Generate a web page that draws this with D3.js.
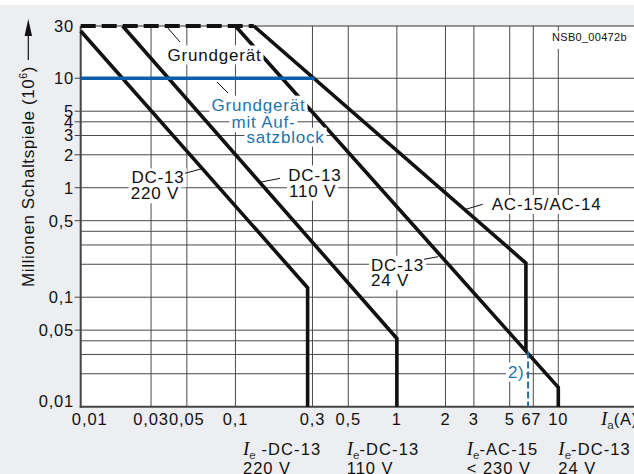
<!DOCTYPE html>
<html><head><meta charset="utf-8">
<script src="https://cdn.jsdelivr.net/npm/d3@7"></script>
<style>
html,body{margin:0;padding:0;background:#fff;}
svg{display:block;font-family:"Liberation Sans",Arial,sans-serif;}
</style></head><body>
<svg id="chart" width="634" height="474"></svg>
<script>
// ---------- data ----------
const xTickValues = [0.01, 0.03, 0.05, 0.1, 0.3, 0.5, 1, 2, 3, 5, 6, 7, 10];
const xGridValues = [0.03, 0.05, 0.1, 0.3, 0.5, 1, 2, 3, 5, 7, 10];
const yTickValues = [30, 10, 5, 4, 3, 2, 1, 0.5, 0.1, 0.05, 0.01];
const yGridValues = [10, 5, 4, 3, 2, 1, 0.5, 0.4, 0.3, 0.2, 0.1, 0.05, 0.04, 0.03, 0.02];
const dc13_220V = [[0.011, 27], [0.28, 0.122], [0.28, 0.01]];
const dc13_110V = [[0.02, 30], [1, 0.042], [1, 0.01]];
const dc13_24V  = [[0.1, 30], [10, 0.015], [10, 0.01]];
const ac15_ac14 = [[0.13, 30], [6.3, 0.205], [6.3, 0.032]];
const grundgeraet = [[0.011, 30], [0.13, 30]];
const mitAufsatzblock = [[0.011, 10], [0.31, 10]];
const note2 = [[6.5, 0.032], [6.5, 0.01]];
const xMin = 0.011, xMax = 10, yMin = 0.01, yMax = 30;

// ---------- setup ----------
const W = 634, H = 474;
const svg = d3.select("#chart");
const x = d3.scaleLog().domain([xMin, xMax]).range([80.7, 558.3]);
const y = d3.scaleLog().domain([yMin, yMax]).range([406.7, 26]);
const pLeft = x(xMin), pRight = W, pTop = y(yMax), pBottom = y(yMin);
const fmt = v => String(v).replace(".", ",");
const BLUE_LINE = "#0b5ea8", BLUE_TEXT = "#1f74a8", INK = "#111";

svg.append("rect").attr("x", 0).attr("y", 5).attr("width", W).attr("height", H - 5).attr("fill", "#eceef1");
svg.append("rect").attr("x", pLeft).attr("y", pTop).attr("width", pRight - pLeft).attr("height", pBottom - pTop).attr("fill", "#fff");

// grid
const grid = svg.append("g").attr("stroke", "#4a4a4a").attr("stroke-width", 1);
grid.selectAll("line.v").data(xGridValues).join("line").attr("class", "v")
  .attr("x1", d => x(d)).attr("x2", d => x(d)).attr("y1", pTop).attr("y2", pBottom);
grid.selectAll("line.h").data(yGridValues).join("line").attr("class", "h")
  .attr("x1", pLeft).attr("x2", pRight).attr("y1", d => y(d)).attr("y2", d => y(d));
svg.append("line").attr("x1", pLeft).attr("x2", pRight).attr("y1", pTop).attr("y2", pTop).attr("stroke", "#333").attr("stroke-width", 1);

// axes lines
svg.append("line").attr("x1", pLeft).attr("x2", pLeft).attr("y1", pTop).attr("y2", pBottom + 1).attr("stroke", "#444").attr("stroke-width", 2);
svg.append("line").attr("x1", pLeft - 1).attr("x2", pRight).attr("y1", pBottom).attr("y2", pBottom).attr("stroke", "#444").attr("stroke-width", 2);

// y ticks and labels
const yAxisG = svg.append("g");
yAxisG.selectAll("line").data(yTickValues.filter(v => v !== yMax && v !== yMin)).join("line")
  .attr("x1", pLeft - 6).attr("x2", pLeft).attr("y1", d => y(d)).attr("y2", d => y(d))
  .attr("stroke", "#444").attr("stroke-width", 1);
yAxisG.selectAll("text").data(yTickValues).join("text")
  .attr("x", 74).attr("y", d => d === yMin ? pBottom : y(d)).attr("dy", d => d === yMin ? 0 : "0.36em")
  .attr("text-anchor", "end").attr("font-size", 16.5).attr("letter-spacing", 0.8).attr("fill", INK)
  .text(fmt);

// x tick labels
const xAxisG = svg.append("g");
xAxisG.selectAll("text").data(xTickValues).join("text")
  .attr("x", d => d < xMin ? pLeft + 9 : x(d) + (d === 6 ? 4 : d === 7 ? 3 : 0))
  .attr("y", 425).attr("text-anchor", "middle")
  .attr("font-size", 16.5).attr("letter-spacing", 0.9).attr("fill", INK)
  .text(fmt);

// x axis title Ia(A)
const ia = svg.append("text").attr("x", 601).attr("y", 425).attr("fill", INK).attr("font-size", 16.5);
ia.append("tspan").attr("font-family", "Liberation Serif").attr("font-style", "italic").attr("font-size", 19).text("I");
ia.append("tspan").attr("font-size", 11.5).attr("dy", 4).attr("fill", "#333").text("a");
ia.append("tspan").attr("dy", -4).attr("letter-spacing", 0.8).text("(A)");

// y axis title
const yt = svg.append("text").attr("transform", "translate(33.5,287) rotate(-90)")
  .attr("font-size", 17).attr("letter-spacing", 0.6).attr("fill", INK);
yt.append("tspan").text("Millionen Schaltspiele (10");
yt.append("tspan").attr("font-size", 10.5).attr("dy", -7).text("6");
yt.append("tspan").attr("dy", 7).text(")");
svg.append("line").attr("x1", 28.3).attr("x2", 28.3).attr("y1", 60).attr("y2", 34).attr("stroke", INK).attr("stroke-width", 1.2);
svg.append("path").attr("d", "M28.3,19 L24.6,36 L32,36 Z").attr("fill", INK);

// curves
const line = d3.line().x(d => x(d[0])).y(d => y(d[1]));
const curves = svg.append("g").attr("fill", "none").attr("stroke-linejoin", "miter");
[dc13_220V, dc13_110V, dc13_24V, ac15_ac14].forEach(c => {
  curves.append("path").attr("d", line(c)).attr("stroke", INK).attr("stroke-width", 3.6);
});
curves.append("path").attr("d", line(grundgeraet)).attr("stroke", INK).attr("stroke-width", 4)
  .attr("stroke-dasharray", "15,6");
curves.append("path").attr("d", line(mitAufsatzblock)).attr("stroke", BLUE_LINE).attr("stroke-width", 3.6);
curves.append("path").attr("d", line(note2)).attr("stroke", BLUE_TEXT).attr("stroke-width", 2)
  .attr("stroke-dasharray", "7,3");

// labels with white background
const labels = svg.append("g");
function label(txt, lx, ly, opt = {}) {
  const g = labels.append("g");
  const t = g.append("text").attr("x", lx).attr("y", ly)
    .attr("font-size", opt.size || 17).attr("letter-spacing", opt.ls == null ? 0.8 : opt.ls)
    .attr("fill", opt.color || INK).attr("text-anchor", opt.anchor || "start").text(txt);
  const b = t.node().getBBox();
  const p = opt.pad == null ? 2 : opt.pad;
  g.insert("rect", "text").attr("x", b.x - p).attr("y", b.y)
    .attr("width", b.width + 2 * p).attr("height", b.height + (opt.padBottom || 0)).attr("fill", "#fff");
  return t;
}
function leader(x1, y1, x2, y2) {
  labels.append("line").attr("x1", x1).attr("y1", y1).attr("x2", x2).attr("y2", y2)
    .attr("stroke", INK).attr("stroke-width", 1);
}

label("Grundgerät", 167.5, 60.5);
leader(167, 27, 180, 42);
label("Grundgerät", 211.5, 110.7, {color: BLUE_TEXT});
label("mit Auf-", 231.5, 128.3, {color: BLUE_TEXT});
label("satzblock", 246.5, 142.7, {color: BLUE_TEXT});
leader(217, 82, 228, 93);
label("DC-13", 131.5, 183.3);
label("220 V", 130.7, 199.3);
leader(185, 173.3, 203.3, 168.3);
label("DC-13", 288.3, 180.5);
label("110 V", 289, 196.7);
leader(260, 182.3, 280, 178.3);
label("AC-15/AC-14", 491.7, 210);
leader(463.3, 210, 482.7, 204.3);
label("DC-13", 371, 270.7);
label("24 V", 371, 286);
leader(424, 259.3, 438.3, 256.7);
label("2)", 508, 377.5, {color: BLUE_TEXT, ls: 0.5, pad: 2});
label("NSB0_00472b", 552, 41, {size: 11, ls: 0.3, pad: 3, padBottom: 6});

// bottom labels
function ieLabel(lx, l1, l2) {
  const t = svg.append("text").attr("x", lx).attr("y", 455).attr("fill", INK).attr("font-size", 16.5);
  t.append("tspan").attr("font-family", "Liberation Serif").attr("font-style", "italic").attr("font-size", 19).text("I");
  t.append("tspan").attr("font-size", 11.5).attr("dy", 4).attr("fill", "#333").text("e");
  t.append("tspan").attr("dy", -4).attr("letter-spacing", 1.1).text(l1);
  svg.append("text").attr("x", lx).attr("y", 473.5).attr("fill", INK).attr("font-size", 16.5)
    .attr("letter-spacing", 1.0).text(l2);
}
ieLabel(243, " -DC-13", "220 V");
ieLabel(346.7, "-DC-13", "110 V");
ieLabel(466.7, "-AC-15", "< 230 V");
ieLabel(558.3, "-DC-13", "24 V");
</script>
</body></html>
